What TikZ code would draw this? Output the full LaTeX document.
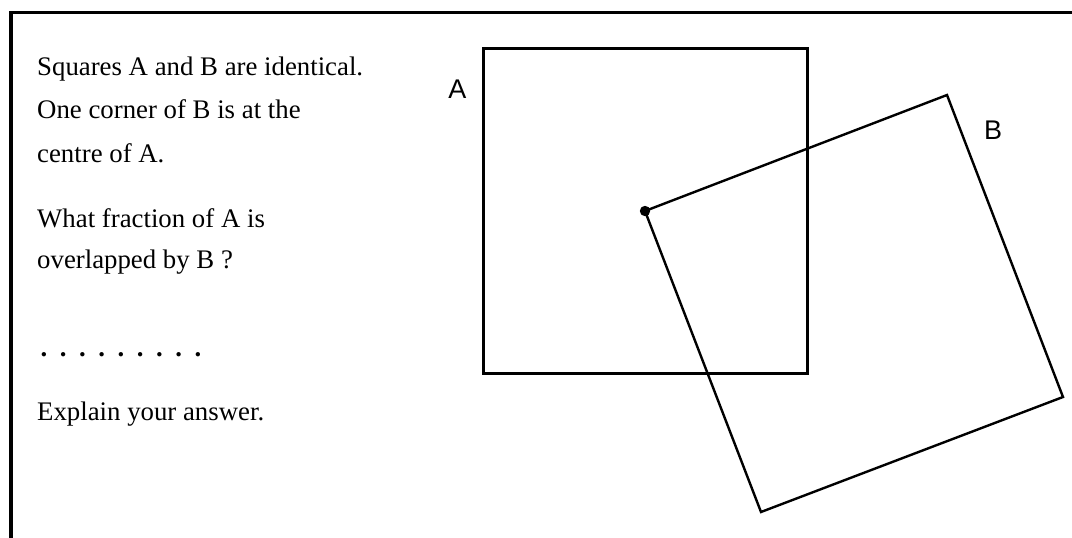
\documentclass[tikz,border=0pt]{standalone}
\usepackage{fontspec}
\setmainfont{Liberation Serif}
\newfontfamily\labelfont{Liberation Sans}
\begin{document}
\begin{tikzpicture}[x=1pt,y=-1pt,
  qtext/.style={anchor=base west,inner sep=0pt,font=\fontsize{26.8}{32}\selectfont},
  sqlabel/.style={anchor=base,inner sep=0pt,font=\labelfont\fontsize{27}{32}\selectfont},
  frameline/.style={line width=3.4pt},
  sqA/.style={line width=3pt},
  sqB/.style={line width=2.4pt,line join=miter}]
\useasboundingbox (0,0) rectangle (1072,538);
% frame
\coordinate (fbl) at (11,540);
\coordinate (ftl) at (11,12.5);
\coordinate (ftr) at (1074,12.5);
\draw[frameline] (fbl) -- (ftl) -- (ftr);
% text
\node[qtext] (t1) at (37,75) {Squares A and B are identical.};
\node[qtext] (t2) at (37,118.5) {One corner of B is at the};
\node[qtext] (t3) at (37,162) {centre of A.};
\node[qtext] (t4) at (37,227) {What fraction of A is};
\node[qtext] (t5) at (37,268) {overlapped by B ?};
\node[qtext] (t6) at (40.5,356) {\foreach \i in {1,...,9}{\makebox[19.25pt][l]{\textbf{.}}}};
\node[qtext] (t7) at (37,420) {Explain your answer.};
% square A
\coordinate (a1) at (483,48.5);
\coordinate (a2) at (807.5,48.5);
\coordinate (a3) at (807.5,373.5);
\coordinate (a4) at (483,373.5);
\draw[sqA] (a1) -- (a2) -- (a3) -- (a4) -- cycle;
% square B
\coordinate (b0) at (645,211);
\coordinate (b1) at (947,95);
\coordinate (b2) at (1063,397);
\coordinate (b3) at (761,512);
\draw[sqB] (b0) -- (b1) -- (b2) -- (b3) -- cycle;
\fill (b0) circle (5.2pt);
% labels
\node[sqlabel] (la) at (457.5,98.5) {A};
\node[sqlabel] (lb) at (993,139) {B};
\end{tikzpicture}
\end{document}
